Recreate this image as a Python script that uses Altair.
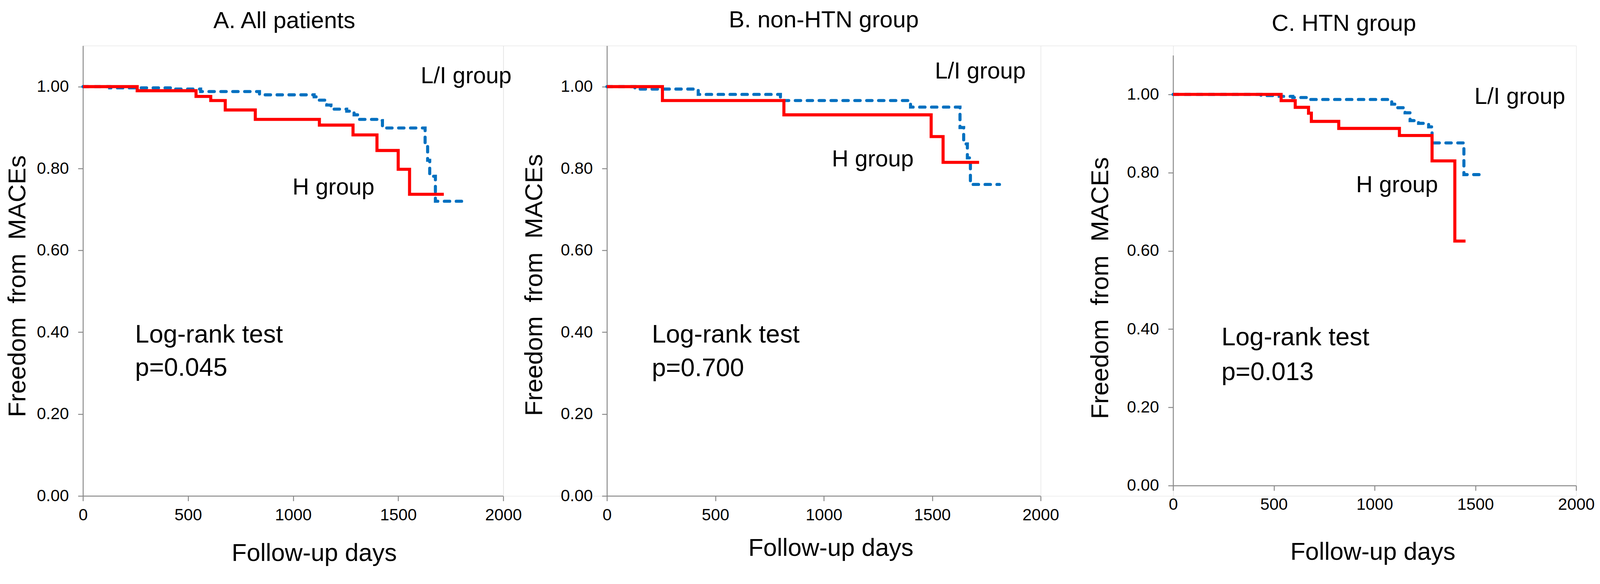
import altair as alt
import pandas as pd

FONT = "Liberation Sans"
AXIS_GRAY = "#898989"
RED = "#FF0000"
BLUE = "#0070C0"

day_ticks = [0, 500, 1000, 1500, 2000]
surv_ticks = [0.0, 0.2, 0.4, 0.6, 0.8, 1.0]

# ---- Panel A: All patients ----
A_H_days = [0, 258, 538, 608, 677, 820, 1125, 1285, 1399, 1500, 1554, 1717]
A_H_surv = [1.000, 0.990, 0.976, 0.966, 0.943, 0.920, 0.906, 0.882, 0.844, 0.798, 0.737, 0.737]
A_LI_days = [0, 127, 440, 560, 840, 1100, 1122, 1160, 1180, 1255, 1290, 1315, 1400, 1425, 1628, 1640, 1650, 1677, 1808]
A_LI_surv = [1.000, 0.997, 0.994, 0.988, 0.980, 0.975, 0.967, 0.955, 0.945, 0.940, 0.931, 0.920, 0.917, 0.899, 0.860, 0.820, 0.781, 0.720, 0.720]

# ---- Panel B: non-HTN group ----
B_H_days = [0, 256, 816, 1495, 1550, 1716]
B_H_surv = [1.000, 0.966, 0.931, 0.878, 0.815, 0.815]
B_LI_days = [0, 129, 421, 800, 1400, 1628, 1645, 1662, 1676, 1810]
B_LI_surv = [1.000, 0.994, 0.981, 0.966, 0.950, 0.900, 0.860, 0.826, 0.761, 0.761]

# ---- Panel C: HTN group ----
C_H_days = [0, 536, 606, 672, 686, 822, 1123, 1285, 1398, 1451]
C_H_surv = [1.000, 0.984, 0.967, 0.952, 0.931, 0.913, 0.895, 0.830, 0.625, 0.625]
C_LI_days = [0, 436, 527, 594, 677, 1085, 1110, 1151, 1176, 1218, 1268, 1285, 1443, 1534]
C_LI_surv = [1.000, 0.997, 0.995, 0.992, 0.987, 0.975, 0.966, 0.953, 0.933, 0.926, 0.917, 0.876, 0.795, 0.795]

titles = ["A. All patients", "B. non-HTN group", "C. HTN group"]
p_values = ["p=0.045", "p=0.700", "p=0.013"]
group_labels = ["L/I group", "H group"]

# label anchor positions (days, survival)
A_lab_days = [1607, 997]
A_lab_surv = [1.008, 0.736]
B_lab_days = [1512, 1037]
B_lab_surv = [1.020, 0.805]
C_lab_days = [1495, 908]
C_lab_surv = [0.976, 0.750]
A_test_pos = [248, 0.375, 0.294]
B_test_pos = [207, 0.375, 0.293]
C_test_pos = [240, 0.359, 0.270]

PLOT_H = 1173


def panel(title, h_days, h_surv, li_days, li_surv, lab_days, lab_surv, test_pos, pval,
          width, title_dx, title_offset, ytitle_x, ytitle_y, xtitle_x, xtitle_y,
          yrange=None, xaxis_offset=0):
    yscale_kw = dict(domain=[0, 1.1], nice=False, zero=True)
    if yrange is not None:
        yscale_kw["range"] = yrange
    x_enc = alt.X(
        "day:Q",
        scale=alt.Scale(domain=[0, 2000], nice=False),
        axis=alt.Axis(
            values=day_ticks, format="d", title="Follow-up days",
            grid=False, domainColor=AXIS_GRAY, tickColor=AXIS_GRAY,
            domainWidth=2.5, tickWidth=2.5, tickSize=13,
            labelFont=FONT, labelFontSize=43, labelColor="black", labelPadding=16,
            labelFlush=False, labelOverlap=False,
            titleFont=FONT, titleFontSize=64, titleFontWeight="normal", titleColor="black",
            titleX=xtitle_x, titleY=xtitle_y, titleAlign="center", titleBaseline="alphabetic",
            offset=xaxis_offset,
        ),
    )
    y_enc = alt.Y(
        "surv:Q",
        scale=alt.Scale(**yscale_kw),
        axis=alt.Axis(
            values=surv_ticks, format=".2f", title="Freedom\u00a0 from\u00a0 MACEs",
            grid=False, domainColor=AXIS_GRAY, tickColor=AXIS_GRAY,
            domainWidth=2.5, tickWidth=2.5, tickSize=13,
            labelFont=FONT, labelFontSize=43, labelColor="black", labelPadding=24,
            labelFlush=False, labelOverlap=False,
            titleFont=FONT, titleFontSize=65, titleFontWeight="normal", titleColor="black",
            titleX=ytitle_x, titleY=ytitle_y, titleAngle=270, titleAlign="center",
            titleBaseline="alphabetic",
        ),
    )
    li_df = pd.DataFrame({"day": li_days, "surv": li_surv})
    h_df = pd.DataFrame({"day": h_days, "surv": h_surv})
    lab_df = pd.DataFrame({"day": lab_days, "surv": lab_surv, "txt": group_labels})
    test_df = pd.DataFrame({"day": [test_pos[0], test_pos[0]],
                            "surv": [test_pos[1], test_pos[2]],
                            "txt": ["Log-rank  test", pval]})

    blue = alt.Chart(li_df).mark_line(
        color=BLUE, strokeWidth=8, strokeDash=[14, 17], strokeCap="round",
        interpolate="step-after",
    ).encode(x=x_enc, y=y_enc)
    red = alt.Chart(h_df).mark_line(
        color=RED, strokeWidth=8, interpolate="step-after",
    ).encode(x=x_enc, y=y_enc)
    labs = alt.Chart(lab_df).mark_text(
        font=FONT, fontSize=60, align="left", baseline="alphabetic", color="black",
    ).encode(x=x_enc, y=y_enc, text="txt:N")
    tests = alt.Chart(test_df).mark_text(
        font=FONT, fontSize=66, align="left", baseline="alphabetic", color="black",
    ).encode(x=x_enc, y=y_enc, text="txt:N")

    return alt.layer(blue, red, labs, tests).properties(
        width=width, height=PLOT_H,
        title=alt.TitleParams(
            text=title, font=FONT, fontSize=61, fontWeight="normal", color="black",
            anchor="middle", dx=title_dx, dy=57, offset=title_offset, baseline="alphabetic",
        ),
    )


def gap(w):
    return alt.Chart(pd.DataFrame({"day": [0]})).mark_point(opacity=0).encode(
        x=alt.value(0), y=alt.value(0)
    ).properties(width=w, height=PLOT_H)


pA = panel(titles[0], A_H_days, A_H_surv, A_LI_days, A_LI_surv, A_lab_days, A_lab_surv,
           A_test_pos, p_values[0], width=1095, title_dx=-23, title_offset=42,
           ytitle_x=-150, ytitle_y=626, xtitle_x=602, xtitle_y=169)
pB = panel(titles[1], B_H_days, B_H_surv, B_LI_days, B_LI_surv, B_lab_days, B_lab_surv,
           B_test_pos, p_values[1], width=1130, title_dx=0, title_offset=44,
           ytitle_x=-169, ytitle_y=623, xtitle_x=583, xtitle_y=156)
pC = panel(titles[2], C_H_days, C_H_surv, C_LI_days, C_LI_surv, C_lab_days, C_lab_surv,
           C_test_pos, p_values[2], width=1050, title_dx=-80, title_offset=35,
           ytitle_x=-170, ytitle_y=631, xtitle_x=520, xtitle_y=193,
           yrange=[1146, 25], xaxis_offset=-27)

chart = alt.hconcat(pA, gap(270), pB, gap(345), pC, spacing=0, bounds="flush").properties(
    padding={"left": 5, "top": 0, "right": 5, "bottom": 5}
).configure_view(stroke=None).configure(background="white")

chart.save("out.html", embed_options={"renderer": "svg", "actions": False})
